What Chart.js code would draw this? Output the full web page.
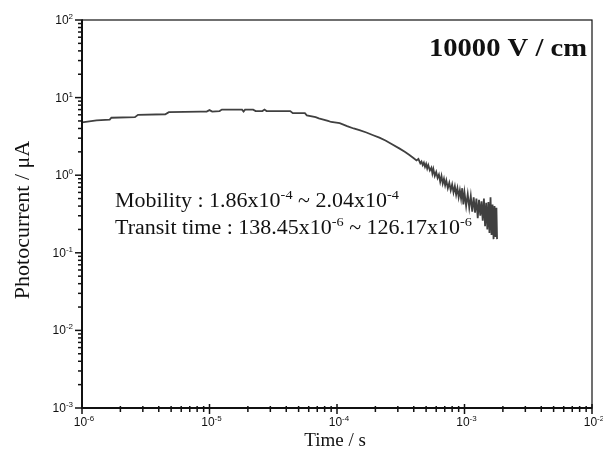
<!DOCTYPE html>
<html>
<head>
<meta charset="utf-8">
<script src="https://cdn.jsdelivr.net/npm/chart.js@4/dist/chart.umd.min.js"></script>
<style>
  html, body { margin: 0; padding: 0; background: #fff; }
  #wrap { width: 603px; height: 460px; position: relative; }
</style>
</head>
<body>
<div id="wrap"><canvas id="c" width="603" height="460"></canvas></div>
<script>
// Transient photocurrent at 10000 V/cm (time in seconds, current in µA)
const timeS = [
  1.00e-6, 1.30e-6, 1.65e-6, 1.70e-6, 2.60e-6, 2.75e-6, 4.50e-6, 4.80e-6, 8.50e-6, 9.50e-6,
  1.00e-5, 1.05e-5, 1.20e-5, 1.25e-5, 1.80e-5, 1.85e-5, 1.90e-5, 2.20e-5, 2.30e-5, 2.60e-5,
  2.70e-5, 2.80e-5, 4.30e-5, 4.50e-5, 5.60e-5, 5.80e-5, 6.80e-5, 7.20e-5, 8.50e-5, 9.00e-5,
  1.05e-4, 1.20e-4, 1.35e-4, 1.50e-4, 1.70e-4, 1.90e-4, 2.15e-4, 2.40e-4, 2.70e-4, 3.10e-4,
  3.40e-4, 3.70e-4, 4.00e-4, 4.20e-4, 4.35e-4, 4.50e-4, 4.60e-4, 4.70e-4, 4.80e-4, 4.90e-4,
  5.00e-4, 5.10e-4, 5.20e-4, 5.35e-4, 5.50e-4, 5.60e-4, 5.70e-4, 5.85e-4, 6.00e-4, 6.15e-4,
  6.30e-4, 6.45e-4, 6.60e-4, 6.75e-4, 6.90e-4, 7.05e-4, 7.20e-4, 7.40e-4, 7.60e-4, 7.80e-4,
  8.00e-4, 8.20e-4, 8.40e-4, 8.60e-4, 8.80e-4, 9.00e-4, 9.20e-4, 9.40e-4, 9.60e-4, 9.80e-4,
  1.00e-3, 1.03e-3, 1.06e-3, 1.09e-3, 1.12e-3, 1.15e-3, 1.18e-3, 1.21e-3, 1.24e-3, 1.27e-3,
  1.30e-3, 1.33e-3, 1.36e-3, 1.39e-3, 1.42e-3, 1.45e-3, 1.48e-3, 1.51e-3, 1.54e-3, 1.57e-3,
  1.60e-3, 1.63e-3, 1.66e-3, 1.69e-3, 1.72e-3, 1.75e-3, 1.78e-3, 1.80e-3
];
const photocurrentUA = [
  4.8, 5.1, 5.2, 5.5, 5.6, 6.0, 6.1, 6.5, 6.6, 6.6,
  6.9, 6.6, 6.7, 7.0, 7.0, 6.6, 7.0, 7.0, 6.7, 6.7,
  7.0, 6.7, 6.7, 6.3, 6.3, 5.9, 5.6, 5.4, 5.0, 4.85,
  4.7, 4.3, 4.0, 3.8, 3.55, 3.3, 3.05, 2.8, 2.5, 2.2,
  2.0, 1.82, 1.65, 1.55, 1.62, 1.42, 1.5, 1.35, 1.45, 1.28,
  1.4, 1.22, 1.35, 1.15, 1.25, 1.05, 1.2, 0.98, 1.1, 0.92,
  1.02, 0.82, 0.98, 0.78, 0.9, 0.74, 0.86, 0.68, 0.8, 0.64,
  0.76, 0.6, 0.72, 0.56, 0.68, 0.52, 0.64, 0.5, 0.68, 0.42,
  0.6, 0.4, 0.57, 0.38, 0.54, 0.34, 0.52, 0.33, 0.5, 0.28,
  0.48, 0.3, 0.46, 0.26, 0.5, 0.22, 0.44, 0.2, 0.45, 0.18,
  0.52, 0.17, 0.42, 0.15, 0.4, 0.16, 0.38, 0.15
];

// Decade exponents used for the log tick labels
const xTickExponents = [-6, -5, -4, -3, -2];
const yTickExponents = [2, 1, 0, -1, -2, -3];

const fieldLabel = '10000 V / cm';
const xTitle = 'Time / s';
const yTitle = 'Photocurrent / \u03bcA';
// Annotation lines: pieces of [text, isExponent]
const mobilityLine = [['Mobility : 1.86x10', false], ['-4', true], [' ~ 2.04x10', false], ['-4', true]];
const transitLine = [['Transit time : 138.45x10', false], ['-6', true], [' ~ 126.17x10', false], ['-6', true]];

const SERIF = '"Liberation Serif", "Times New Roman", serif';
const SANS = '"Liberation Sans", Arial, sans-serif';

// Draws text with raised exponent pieces; sx widens the glyphs horizontally
function drawPieces(ctx, pieces, x, y, size, supSize, rise, family, weight, sx) {
  sx = sx || 1;
  ctx.save();
  ctx.translate(x, y);
  ctx.scale(sx, 1);
  let cx = 0;
  for (const [txt, sup] of pieces) {
    ctx.font = (weight || '') + ' ' + (sup ? supSize : size) + 'px ' + family;
    ctx.fillText(txt, cx, sup ? -rise : 0);
    cx += ctx.measureText(txt).width;
  }
  ctx.restore();
  return cx * sx;
}
function measurePieces(ctx, pieces, size, supSize, family) {
  let w = 0;
  for (const [txt, sup] of pieces) {
    ctx.font = (sup ? supSize : size) + 'px ' + family;
    w += ctx.measureText(txt).width;
  }
  return w;
}

const framePlugin = {
  id: 'frame',
  afterDraw(chart) {
    const ctx = chart.ctx;
    const a = chart.chartArea;
    const xs = chart.scales.x, ys = chart.scales.y;
    ctx.save();
    ctx.strokeStyle = '#111';
    ctx.fillStyle = '#111';

    // frame
    ctx.lineWidth = 1.2;
    ctx.strokeRect(a.left, a.top, a.right - a.left, a.bottom - a.top);
    ctx.lineWidth = 2;
    ctx.beginPath();
    ctx.moveTo(a.left, a.top); ctx.lineTo(a.left, a.bottom); ctx.lineTo(a.right, a.bottom);
    ctx.stroke();

    // x ticks
    ctx.lineWidth = 1.5;
    const xLast = xTickExponents[xTickExponents.length - 1];
    for (let e = xTickExponents[0]; e <= xLast; e++) {
      for (let k = 1; k <= 9; k++) {
        if (e === xLast && k > 1) break;
        const px = xs.getPixelForValue(k * Math.pow(10, e));
        ctx.beginPath();
        if (k === 1) { ctx.moveTo(px, a.bottom - 4); ctx.lineTo(px, a.bottom + 6); }
        else { ctx.moveTo(px, a.bottom - 2); ctx.lineTo(px, a.bottom + 4); }
        ctx.stroke();
      }
    }
    // y ticks
    const yTop = yTickExponents[0];
    for (let e = yTickExponents[yTickExponents.length - 1]; e <= yTop; e++) {
      for (let k = 1; k <= 9; k++) {
        if (e === yTop && k > 1) break;
        const py = ys.getPixelForValue(k * Math.pow(10, e));
        ctx.beginPath();
        if (k === 1) { ctx.moveTo(a.left - 7, py); ctx.lineTo(a.left + 1, py); }
        else { ctx.moveTo(a.left - 4, py); ctx.lineTo(a.left, py); }
        ctx.stroke();
      }
    }

    // tick labels
    ctx.textBaseline = 'alphabetic';
    ctx.textAlign = 'left';
    for (const e of xTickExponents) {
      const px = xs.getPixelForValue(Math.pow(10, e));
      const pieces = [['10', false], [String(e), true]];
      const w = measurePieces(ctx, pieces, 12, 8, SANS);
      drawPieces(ctx, pieces, px - w / 2 + 2, a.bottom + 18, 12, 8, 5, SANS);
    }
    for (const e of yTickExponents) {
      const py = ys.getPixelForValue(Math.pow(10, e));
      const pieces = [['10', false], [String(e), true]];
      const w = measurePieces(ctx, pieces, 12, 8, SANS);
      drawPieces(ctx, pieces, a.left - 9 - w, py + 4, 12, 8, 5, SANS);
    }

    // axis titles
    ctx.textAlign = 'center';
    ctx.font = '19px ' + SERIF;
    ctx.fillText(xTitle, (a.left + a.right) / 2 - 2, 446);
    ctx.save();
    ctx.translate(29, 220);
    ctx.rotate(-Math.PI / 2);
    ctx.font = '22px ' + SERIF;
    ctx.fillText(yTitle, 0, 0);
    ctx.restore();

    // field label, right-aligned inside the frame
    ctx.textAlign = 'left';
    ctx.font = 'bold 26px ' + SERIF;
    const fw = ctx.measureText(fieldLabel).width * 1.1;
    drawPieces(ctx, [[fieldLabel, false]], a.right - 5 - fw, 56, 26, 26, 0, SERIF, 'bold', 1.1);

    // annotations
    drawPieces(ctx, mobilityLine, 115, 207, 20, 13, 8, SERIF, '', 1.1);
    drawPieces(ctx, transitLine, 115, 234, 20, 13, 8, SERIF, '', 1.1);
    ctx.restore();
  }
};

new Chart(document.getElementById('c'), {
  type: 'line',
  data: {
    datasets: [{
      data: timeS.map((t, i) => ({ x: t, y: photocurrentUA[i] })),
      borderColor: '#404040',
      borderWidth: 1.8,
      pointRadius: 0,
      tension: 0,
      fill: false
    }]
  },
  options: {
    responsive: false,
    animation: false,
    events: [],
    layout: { padding: { left: 0, top: 20, right: 11, bottom: 0 } },
    plugins: { legend: { display: false }, title: { display: false }, tooltip: { enabled: false } },
    scales: {
      x: {
        type: 'logarithmic', min: 1e-6, max: 1e-2,
        ticks: { display: false }, grid: { display: false }, border: { display: false },
        afterFit(s) { s.height = 52; }
      },
      y: {
        type: 'logarithmic', min: 1e-3, max: 1e2,
        ticks: { display: false }, grid: { display: false }, border: { display: false },
        afterFit(s) { s.width = 82; }
      }
    }
  },
  plugins: [framePlugin]
});
</script>
</body>
</html>
